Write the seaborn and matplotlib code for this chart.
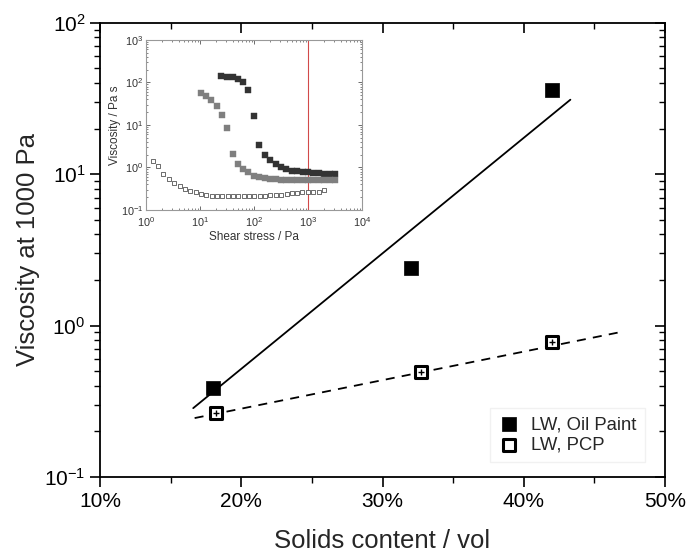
import numpy as np
import pandas as pd
import matplotlib
matplotlib.use("Agg")
import matplotlib.pyplot as plt
from matplotlib.ticker import PercentFormatter, MultipleLocator, LogLocator, NullFormatter
import seaborn as sns

# Viscosity at 1000 Pa versus solids content
oil_solids = [18.0, 32.0, 42.0]
oil_visc = [0.39, 2.39, 36.0]
pcp_solids = [18.2, 32.7, 42.0]
pcp_visc = [0.264, 0.49, 0.776]

# Exponential trend lines (end points)
oil_fit_x = [16.6, 43.3]
oil_fit_y = [0.285, 31.0]
pcp_fit_x = [16.7, 46.7]
pcp_fit_y = [0.245, 0.90]

# Inset flow curves: viscosity versus shear stress
oil_hi_stress = [25, 32, 40, 50, 63, 79, 100, 126, 158, 200, 251, 316, 398, 501,
                 631, 794, 1000, 1259, 1585, 1995, 2512, 3162]
oil_hi_visc = [142, 137, 132, 120, 100, 66, 16.5, 3.4, 2.0, 1.5, 1.21, 1.0, 0.92,
               0.84, 0.83, 0.80, 0.78, 0.76, 0.74, 0.72, 0.72, 0.70]
oil_lo_stress = [10.3, 12.9, 16.2, 20.4, 25.7, 32, 40, 50, 63, 79, 100, 126, 158,
                 200, 251, 316, 398, 501, 631, 794, 1000, 1259, 1585, 1995, 2512, 3162]
oil_lo_visc = [58, 49, 38, 28, 17, 8.6, 2.04, 1.19, 0.92, 0.77, 0.64, 0.59, 0.56,
               0.54, 0.53, 0.52, 0.51, 0.51, 0.51, 0.50, 0.50, 0.50, 0.50, 0.50,
               0.50, 0.51]
pcp_stress = [1.33, 1.69, 2.1, 2.67, 3.35, 4.2, 5.3, 6.6, 8.3, 10.4, 13, 16.4, 20.6,
              26, 32.6, 41, 51.5, 65, 81, 102, 128, 160, 200, 250, 320, 400, 500,
              630, 790, 1000, 1260, 1580, 2000]
pcp_visc_curve = [1.44, 1.1, 0.72, 0.54, 0.43, 0.36, 0.31, 0.28, 0.26, 0.24, 0.225,
                  0.217, 0.21, 0.21, 0.21, 0.21, 0.21, 0.21, 0.21, 0.21, 0.21, 0.21,
                  0.22, 0.22, 0.23, 0.24, 0.25, 0.25, 0.26, 0.26, 0.27, 0.27, 0.29]

x_ticks = [10, 20, 30, 40, 50]

sns.set_style("ticks")
plt.rcParams["font.family"] = ["Liberation Sans", "DejaVu Sans"]
plt.rcParams["mathtext.default"] = "regular"

fig = plt.figure(figsize=(6.91, 5.53), dpi=100)
main_rect = [0.1447, 0.1374, 0.8177, 0.8216]
ax = fig.add_axes(main_rect)

# Trend lines
sns.lineplot(x=oil_fit_x, y=oil_fit_y, ax=ax, color="black", lw=1.3)
sns.lineplot(x=pcp_fit_x, y=pcp_fit_y, ax=ax, color="black", lw=1.3,
             linestyle=(0, (5, 4)))

# Data points
sns.scatterplot(x=oil_solids, y=oil_visc, ax=ax, marker="s", s=110,
                color="black", edgecolor="black", linewidth=0.5,
                label="LW, Oil Paint", zorder=5)
sns.scatterplot(x=pcp_solids, y=pcp_visc, ax=ax, marker="s", s=65,
                facecolor="white", edgecolor="black", linewidth=2.2,
                label="LW, PCP", zorder=5)
sns.scatterplot(x=pcp_solids, y=pcp_visc, ax=ax, marker="+", s=22,
                color="black", linewidth=1.0, zorder=6, legend=False)

ax.set_yscale("log")
ax.set_xlim(10, 50)
ax.set_ylim(0.1, 100)
ax.set_xticks(x_ticks)
ax.xaxis.set_minor_locator(MultipleLocator(5))
ax.xaxis.set_major_formatter(PercentFormatter(xmax=100, decimals=0))
ax.yaxis.set_major_locator(LogLocator(base=10, numticks=10))
ax.yaxis.set_minor_locator(LogLocator(base=10, subs=np.arange(2, 10), numticks=10))
ax.yaxis.set_minor_formatter(NullFormatter())

for side in ["left", "right", "top", "bottom"]:
    ax.spines[side].set_visible(True)
    ax.spines[side].set_linewidth(1.3)
    ax.spines[side].set_color("black")

# outward ticks on the bottom and left spines
ax.tick_params(which="both", top=False, right=False, bottom=True, left=True,
               direction="out", colors="black")
ax.tick_params(which="major", length=7, width=1.2, labelsize=15)
ax.tick_params(which="minor", length=4, width=1.0)

# inward ticks on the top and right spines, via a transparent overlay axes
ax_tr = fig.add_axes(main_rect, sharex=ax, sharey=ax)
ax_tr.patch.set_visible(False)
for side in ax_tr.spines.values():
    side.set_visible(False)
ax_tr.tick_params(which="both", direction="in", top=True, right=True,
                  bottom=False, left=False, labelbottom=False, labelleft=False,
                  labeltop=False, labelright=False, colors="black")
ax_tr.tick_params(which="major", length=7, width=1.2)
ax_tr.tick_params(which="minor", length=4, width=1.0)

ax.set_xlabel("Solids content / vol", fontsize=18.5, labelpad=13)
ax.set_ylabel("Viscosity at 1000 Pa", fontsize=18.5, labelpad=3)

leg = ax.legend(loc="lower right", bbox_to_anchor=(0.9646, 0.033),
                borderaxespad=0, fontsize=13.3,
                frameon=True, fancybox=False, edgecolor="#eeeeee",
                handletextpad=0.6, borderpad=0.45, labelspacing=0.2,
                handlelength=1.2)

# Inset: flow curves
axi = fig.add_axes([0.2113, 0.6203, 0.3126, 0.3074])
axi.set_xscale("log")
axi.set_yscale("log")
axi.axvline(1000, color="#d24a4a", lw=0.8, zorder=1)
sns.scatterplot(x=oil_hi_stress, y=oil_hi_visc, ax=axi, marker="s", s=15,
                color="#333333", edgecolor="#333333", linewidth=0.3, legend=False,
                zorder=3)
sns.scatterplot(x=oil_lo_stress, y=oil_lo_visc, ax=axi, marker="s", s=13,
                color="#7f7f7f", edgecolor="#7f7f7f", linewidth=0.3, legend=False,
                zorder=3)
sns.scatterplot(x=pcp_stress, y=pcp_visc_curve, ax=axi, marker="s", s=12,
                facecolor="white", edgecolor="#555555", linewidth=0.6, legend=False,
                zorder=3)
axi.set_xlim(1, 1e4)
axi.set_ylim(0.1, 1000)
for axis in (axi.xaxis, axi.yaxis):
    axis.set_major_locator(LogLocator(base=10, numticks=10))
    axis.set_minor_locator(LogLocator(base=10, subs=np.arange(2, 10), numticks=10))
    axis.set_minor_formatter(NullFormatter())
for side in ["left", "right", "top", "bottom"]:
    axi.spines[side].set_visible(True)
    axi.spines[side].set_color("#999999")
    axi.spines[side].set_linewidth(0.8)
axi.tick_params(which="both", direction="in", top=True, right=True,
                color="#555555", labelcolor="#333333")
axi.tick_params(which="major", length=3, width=0.6, labelsize=7.8)
axi.tick_params(axis="x", which="major", pad=3.5)
axi.tick_params(axis="y", which="major", pad=2)
axi.tick_params(which="minor", length=1.5, width=0.5)
axi.set_xlabel("Shear stress / Pa", fontsize=8.5, color="#333333", labelpad=2)
axi.set_ylabel("Viscosity / Pa s", fontsize=8.5, color="#333333", labelpad=0)

fig.savefig("out.png", dpi=100)
